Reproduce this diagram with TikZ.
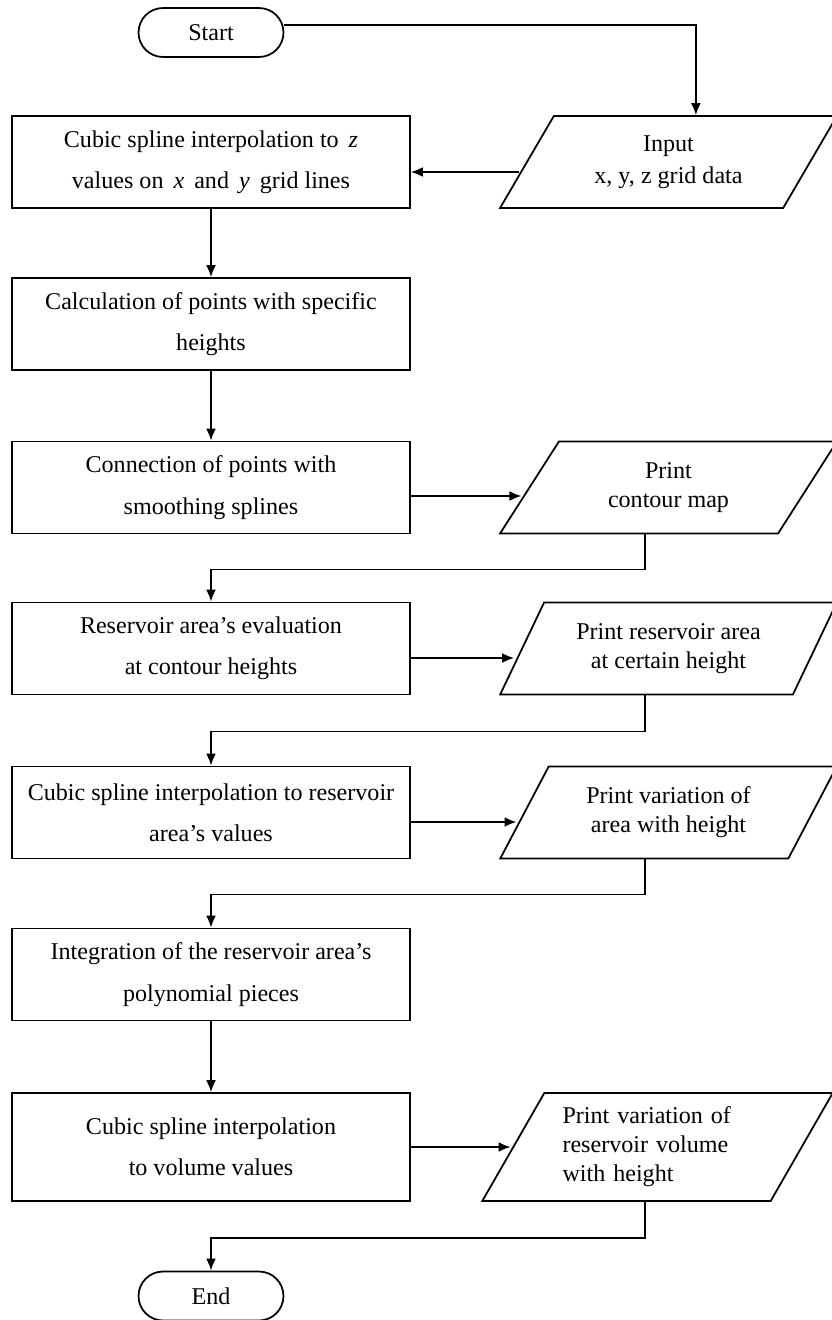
\documentclass[tikz,border=0pt]{standalone}
\usepackage{fontspec}
\setmainfont{Liberation Serif}
\usetikzlibrary{arrows.meta}
\usetikzlibrary{shapes.geometric, shapes.misc}
\usetikzlibrary{math}

\newcommand{\boxfont}{\fontsize{13.7}{23.5}\selectfont}
\newcommand{\iofont}{\fontsize{13.7}{16.5}\selectfont}

\begin{document}
\begin{tikzpicture}[x=0.02cm, y=-0.02cm, line width=1pt,
  proc/.style={draw, rectangle, minimum width=7.96cm, minimum height=1.84cm,
    inner sep=0pt, align=center, font=\boxfont},
  io/.style={draw, trapezium, trapezium left angle=57, trapezium right angle=123,
    trapezium stretches, minimum width=6.74cm, minimum height=1.84cm,
    inner sep=0pt, align=center, font=\iofont},
  term/.style={draw, rounded rectangle, minimum width=2.9cm, minimum height=0.98cm,
    inner sep=0pt, font=\boxfont},
  arr/.style={-{Latex[length=6.8pt,width=5.6pt]}}]
\tikzmath{
\cx=211;
\px=668.5;
}
\useasboundingbox (0,0) rectangle (832,1320);

\node[term] (start) at (\cx,32.5) {Start};
\node[io] (input) at (\px,162) {Input\\[2pt]x, y, z grid data};
\node[proc] (cubz) at (\cx,162) {\raisebox{-3pt}{Cubic spline interpolation to \,\textit{z}}\\\raisebox{-3pt}{values on \,\textit{x}\, and \,\textit{y}\, grid lines}};
\node[proc] (calc) at (\cx,324) {Calculation of points with specific\\heights};
\node[proc] (conn) at (\cx,487.5) {Connection of points with\\smoothing splines};
\node[io] (prmap) at (\px,487.5) {Print\\contour map};
\node[proc] (area) at (\cx,648.5) {Reservoir area’s evaluation\\at contour heights};
\node[io] (prarea) at (\px,648.5) {Print reservoir area\\at certain height};
\node[proc] (cubarea) at (\cx,812.5) {Cubic spline interpolation to reservoir\\area’s values};
\node[io] (prvar) at (\px,812.5) {Print variation of\\area with height};
\node[proc] (integ) at (\cx,974.5) {Integration of the reservoir area’s\\polynomial pieces};
\node[proc, minimum height=2.16cm] (cubvol) at (\cx,1147) {Cubic spline interpolation\\to volume values};
\node[io, minimum width=7.02cm, minimum height=2.16cm, text width=3.8cm, align=left] (prvol) at (657.5,1147) {Print variation of\\reservoir volume\\with height};
\node[term] (end) at (\cx,1296) {End};
\coordinate (drop) at (645,0);

% main flow
\draw[arr] ([yshift=0.15cm]start.east) -| (input.top side);
\coordinate (inl) at ([yshift=-0.2cm]input.left side);
\draw[arr, shorten <=4pt] (inl) -- (inl -| cubz.east);
\draw[arr] (cubz) -- (calc);
\draw[arr] (calc) -- (conn);

% outputs
\coordinate (c1) at ([yshift=-0.17cm]conn.east);
\draw[arr, shorten >=4pt] (c1) -- (c1 -| prmap.left side);
\coordinate (c2) at ([yshift=-0.19cm]area.east);
\draw[arr, shorten >=4pt] (c2) -- (c2 -| prarea.left side);
\coordinate (c3) at ([yshift=-0.19cm]cubarea.east);
\draw[arr, shorten >=4pt] (c3) -- (c3 -| prvar.left side);
\draw[arr, shorten >=1pt] (cubvol.east) -- (cubvol.east -| prvol.left side);

% back to the left column
\draw[arr] (prmap.south -| drop) -- ++(0,35) -| (area.north);
\draw[arr] (prarea.south -| drop) -- ++(0,36) -| (cubarea.north);
\draw[arr] (prvar.south -| drop) -- ++(0,35) -| (integ.north);
\draw[arr] (integ) -- (cubvol);
\draw[arr] (prvol.south -| drop) -- ++(0,36) -| (end.north);

\end{tikzpicture}
\end{document}
